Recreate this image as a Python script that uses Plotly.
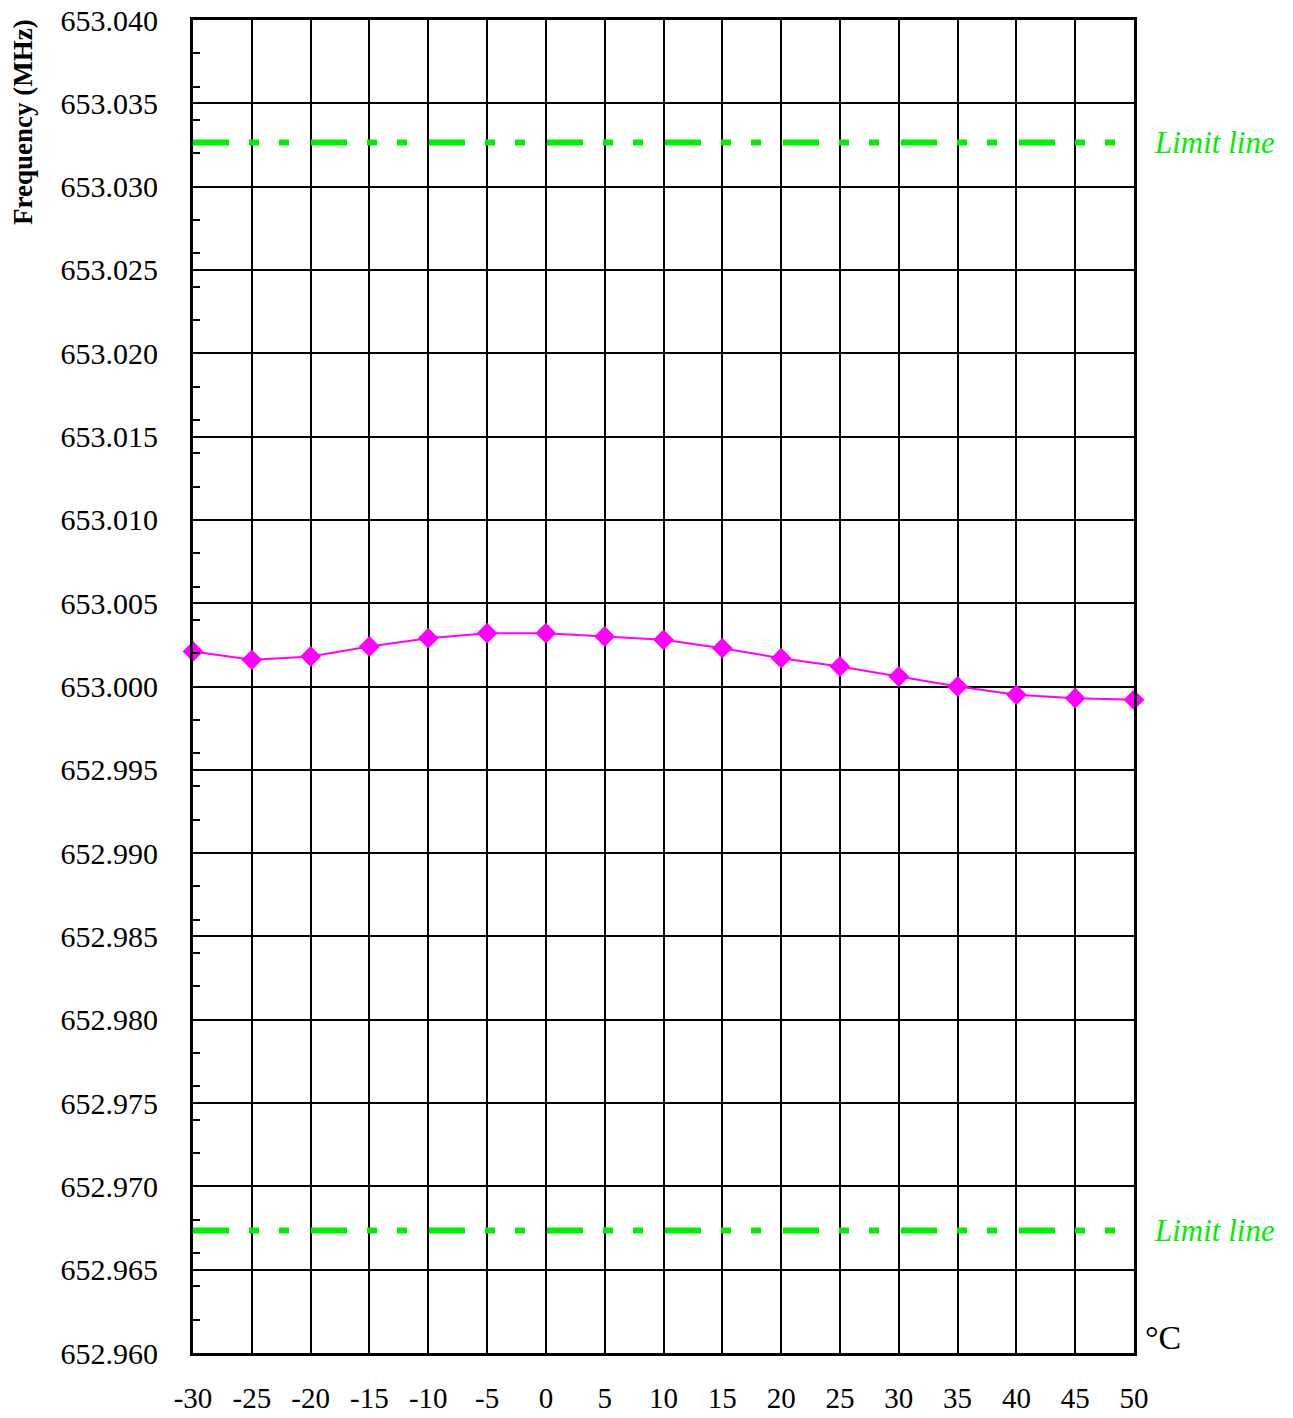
import plotly.graph_objects as go

temps = [-30, -25, -20, -15, -10, -5, 0, 5, 10, 15, 20, 25, 30, 35, 40, 45, 50]
freqs = [653.0021, 653.0016, 653.0018, 653.0024, 653.0029, 653.0032, 653.0032,
         653.0030, 653.0028, 653.0023, 653.0017, 653.0012, 653.0006, 653.0000,
         652.9995, 652.9993, 652.9992]
limit_upper = 653.03265
limit_lower = 652.96735
x_ticks = list(range(-30, 55, 5))
y_ticks = [round(652.960 + 0.005 * i, 3) for i in range(17)]
y_tick_labels = [f"{v:.3f}" for v in y_ticks]

font_family = "Liberation Serif, Times New Roman, serif"
green = "#00EE00"
dash = "36px,20px,10px,20px,10px,22px"

W, H = 1293, 1418
L, T, R, B = 193, 20, 159, 65
pw, ph = W - L - R, H - T - B

fig = go.Figure()
for lim in (limit_upper, limit_lower):
    fig.add_trace(go.Scatter(
        x=[temps[0], temps[-1]], y=[lim, lim], mode="lines",
        line=dict(color=green, width=6, dash=dash), showlegend=False, hoverinfo="skip"))
fig.add_trace(go.Scatter(
    x=temps, y=freqs, mode="lines+markers",
    line=dict(color="#FF00FF", width=2),
    marker=dict(symbol="diamond", size=16, color="#FF00FF"),
    showlegend=False, cliponaxis=False))

for lim in (limit_upper, limit_lower):
    fig.add_annotation(x=1.019, xref="paper", y=lim, yref="y", text="<i>Limit line</i>",
                       showarrow=False, xanchor="left", yanchor="middle",
                       font=dict(family=font_family, size=31, color=green))
fig.add_annotation(x=1.01, xref="paper", y=-0.004, yref="paper", text="°C",
                   showarrow=False, xanchor="left", yanchor="bottom",
                   font=dict(family=font_family, size=34, color="black"))
fig.add_annotation(xref="paper", yref="paper",
                   x=(23 - L) / pw, y=1 - (122 - T) / ph,
                   xanchor="center", yanchor="middle",
                   text="<b>Frequency (MHz)</b>", showarrow=False, textangle=-90,
                   font=dict(family=font_family, size=27, color="black"))

fig.update_xaxes(
    range=[-30, 50], tickvals=x_ticks, ticktext=[str(v) for v in x_ticks],
    showgrid=True, gridcolor="black", gridwidth=2,
    showline=True, linecolor="black", linewidth=3, mirror=True,
    ticks="", ticklabelstandoff=17, automargin=False, ticklabeloverflow="allow",
    tickfont=dict(family=font_family, size=29, color="black"), zeroline=False)
fig.update_yaxes(
    range=[652.960, 653.040], tickvals=y_ticks, ticktext=y_tick_labels,
    showgrid=True, gridcolor="black", gridwidth=2,
    showline=True, linecolor="black", linewidth=3, mirror=True,
    ticks="inside", ticklen=7, tickwidth=2, tickcolor="black",
    minor=dict(tickmode="linear", tick0=652.960, dtick=0.002, ticks="inside",
               ticklen=7, tickwidth=2, tickcolor="black", showgrid=False),
    ticklabelstandoff=26, automargin=False, ticklabeloverflow="allow",
    tickfont=dict(family=font_family, size=30, color="black"), zeroline=False)

fig.update_layout(
    width=W, height=H,
    margin=dict(l=L, r=R, t=T, b=B, autoexpand=False),
    plot_bgcolor="white", paper_bgcolor="white",
)
fig.write_html("out.html", config={"displayModeBar": False},
               post_script="document.body.style.margin='0';document.body.style.overflow='hidden';")
